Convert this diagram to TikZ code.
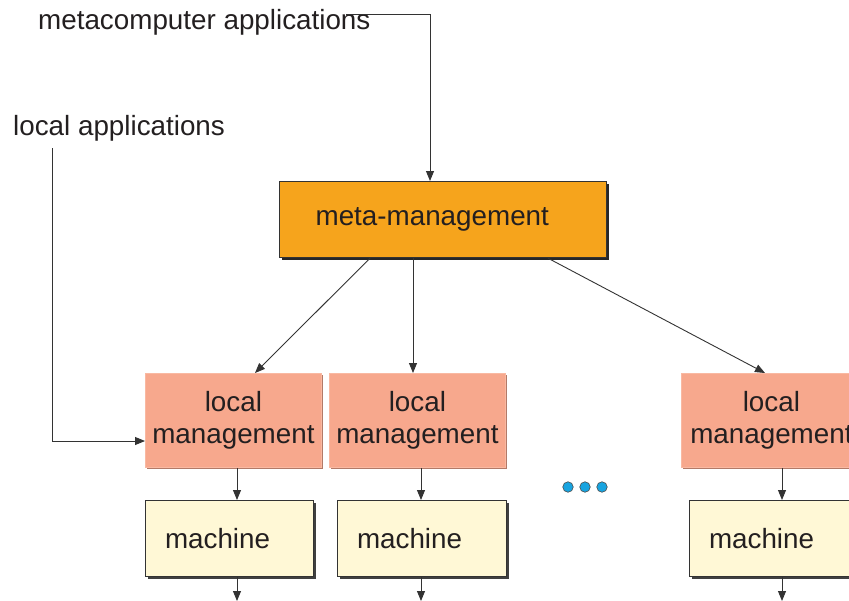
\documentclass[tikz,border=0pt]{standalone}
\usepackage{fontspec}
\setmainfont{Liberation Sans}
\usetikzlibrary{arrows.meta,shadows}
\definecolor{txt}{HTML}{231F20}
\definecolor{orng}{HTML}{F6A41C}
\definecolor{salm}{HTML}{F7A88D}
\definecolor{salmedge}{HTML}{F9B9A2}
\definecolor{salmshadow}{HTML}{B27A68}
\definecolor{yell}{HTML}{FFF8D6}
\definecolor{dotblue}{HTML}{18A4E0}
\definecolor{lin}{HTML}{333333}
\tikzset{
  lbl/.style={font=\fontsize{27.8}{31}\selectfont, text=txt, inner sep=0pt},
  metabox/.style={draw=lin, line width=1.2pt, fill=orng, anchor=north west,
    minimum height=76pt, text width=255pt, inner xsep=36pt, align=left,
    font=\fontsize{27.8}{31}\selectfont, text=txt,
    drop shadow={shadow xshift=2.5pt, shadow yshift=-2.5pt, fill=black!85, opacity=1}},
  localbox/.style={draw=salmedge, line width=0.8pt, fill=salm, anchor=north west,
    minimum width=176pt, minimum height=94pt, align=center, inner xsep=0pt,
    font=\fontsize{27.8}{31.5}\selectfont, text=txt,
    drop shadow={shadow xshift=2pt, shadow yshift=-2pt, fill=salmshadow, opacity=1}},
  machbox/.style={draw=lin, line width=1pt, fill=yell, anchor=north west,
    minimum height=76pt, align=left, inner xsep=19.5pt,
    font=\fontsize{27.8}{31}\selectfont, text=txt,
    drop shadow={shadow xshift=2pt, shadow yshift=-2pt, fill=black!75, opacity=1}},
  arr/.style={draw=lin, line width=0.9pt, -{Triangle[length=10pt,width=8pt]}},
  dot/.style={circle, draw=black!70, line width=0.6pt, fill=dotblue, minimum size=10.5pt, inner sep=0pt}
}
\begin{document}
\begin{tikzpicture}[x=1pt,y=-1pt]
\useasboundingbox (0,0) rectangle (849,600);
% labels
\node[lbl, anchor=base west] (mca) at (38,29.5) {metacomputer applications};
\node[lbl, anchor=base west] (lca) at (13,135) {local applications};
% meta box
\node[metabox] (meta) at (279,181) {meta-management};
% local boxes
\node[localbox] (lm1) at (145,373) {local\\management};
\node[localbox] (lm2) at (329,373) {local\\management};
\node[localbox, minimum width=180pt] (lm3) at (681,373) {local\\management};
% machines
\node[machbox, text width=129pt] (mc1) at (145,500) {machine};
\node[machbox, text width=130pt] (mc2) at (337,500) {machine};
\node[machbox, text width=131pt] (mc3) at (689,500) {machine};
% dots
\node[dot] (d1) at (568,487) {};
\node[dot] (d2) at (585,487) {};
\node[dot] (d3) at (602,487) {};
% helper coordinates
\coordinate (m0) at (346,14);
\coordinate (mx) at (430,0);
\coordinate (l0) at (52,148);
\coordinate (ly) at (0,441);
\coordinate (a1) at (370,0);
\coordinate (a2) at (413,0);
\coordinate (a3) at (548,0);
\coordinate (b1) at (255,0);
\coordinate (b3) at (765,0);
\coordinate (c1) at (237,0);
\coordinate (c2) at (421,0);
\coordinate (c3) at (782,0);
\coordinate (e1) at (237,601);
\coordinate (e2) at (421,601);
\coordinate (e3) at (782,601);
% connectors
\draw[arr] (m0) -| (meta.north -| mx);
\draw[arr] (l0) |- (lm1.west |- ly);
\draw[arr] (meta.south -| a1) -- (lm1.north -| b1);
\draw[arr] (meta.south -| a2) -- (lm2.north -| a2);
\draw[arr] (meta.south -| a3) -- (lm3.north -| b3);
\draw[arr] (lm1.south -| c1) -- (mc1.north -| c1);
\draw[arr] (lm2.south -| c2) -- (mc2.north -| c2);
\draw[arr] (lm3.south -| c3) -- (mc3.north -| c3);
\draw[arr] (mc1.south -| c1) -- (e1);
\draw[arr] (mc2.south -| c2) -- (e2);
\draw[arr] (mc3.south -| c3) -- (e3);
\end{tikzpicture}
\end{document}
